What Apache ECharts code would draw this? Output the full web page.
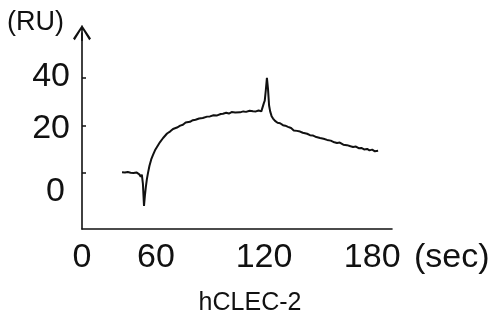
<!DOCTYPE html>
<html>
<head>
<meta charset="utf-8">
<script src="https://cdn.jsdelivr.net/npm/echarts@6/dist/echarts.min.js"></script>
<style>
  html, body { margin: 0; padding: 0; background: #fff; }
  #chart { width: 500px; height: 320px; }
</style>
</head>
<body>
<div id="chart"></div>
<script>
// sensorgram trace (time in sec, response in RU)
const timeSec = [
  41.2, 42.0, 42.8, 43.6, 44.4, 45.2, 46.0, 46.8, 47.6, 48.4, 49.2, 50.0, 50.8, 51.6, 52.2, 52.8,
  53.4, 53.9, 54.4, 55.0, 55.6, 56.4, 57.4, 58.4, 59.5, 60.6, 62.3, 64.0, 66.2, 68.0, 69.5, 71.7,
  73.5, 75.0, 76.5, 78.9, 80.5, 82.0, 84.0, 86.0, 88.4, 90.0, 92.0, 94.0, 96.0, 97.2, 99.0, 100.5,
  102.0, 104.0, 106.7, 108.5, 110.0, 112.0, 113.9, 115.5, 117.0, 118.5, 119.4, 119.9, 120.4, 121.0,
  121.6, 122.2, 122.8, 123.4, 124.2, 125.0, 126.1, 127.5, 128.9, 130.5, 131.8, 133.3, 135.0, 136.5,
  138.3, 140.0, 141.5, 143.9, 145.5, 147.0, 149.0, 151.1, 153.0, 155.0, 157.0, 159.0, 160.5, 162.0,
  164.0, 166.0, 168.0, 169.4, 171.0, 172.5, 174.0, 175.5, 177.2, 178.5, 180.0, 181.5, 183.3
]
const responseRU = [
  0.4, 0.8, 0.3, 0.9, 0.5, 1.0, 0.2, 0.7, 0.1, 0.8, 0.3, 0.6, -0.5, -1.5, -0.6, -4.5,
  -13.8, -9.5, -6.0, -2.5, 0.0, 3.0, 5.8, 7.7, 9.6, 11.0, 13.1, 14.8, 16.7, 17.6, 18.6, 19.2,
  20.0, 20.4, 21.3, 21.6, 22.3, 22.5, 23.0, 23.2, 23.8, 23.9, 24.4, 24.3, 24.9, 25.0, 25.4, 25.1,
  25.7, 25.5, 25.6, 26.0, 25.8, 26.3, 26.1, 26.0, 26.4, 26.0, 26.1, 29.5, 30.5, 35.0,
  40.1, 35.5, 28.5, 26.0, 24.0, 23.0, 22.0, 21.2, 21.0, 20.2, 20.0, 19.5, 19.0, 18.0,
  17.8, 17.5, 17.0, 16.6, 16.0, 15.9, 15.2, 14.8, 14.5, 14.0, 13.7, 13.0, 12.7, 12.9,
  12.0, 11.8, 11.3, 11.0, 11.2, 10.5, 10.6, 10.0, 10.2, 9.6, 9.9, 9.2, 9.4
]

const xMin = 19
const xMax = 191
const xTicks = [xMin, 60, 120, 180]   // origin is labelled "0"
const yTicks = [0, 20, 40]
const yMin = -23.5
const yMax = 59

const FONT = '"Liberation Sans", Arial, sans-serif'
const INK = '#111'

// open arrow head with a stem, pointing up
const arrowPath = 'path://M9,0 L18,13.6 L16.2,15.2 L9,3.6 L1.8,15.2 L0,13.6 Z M8.2,0.5 L9.8,0.5 L9.8,16 L8.2,16 Z'

// the y labels in the original sit a little off their ticks
const yLabelText = { fontFamily: FONT, fontSize: 34, color: INK }
const yLabelRich = {
  y0: { ...yLabelText, padding: [36, 5, 0, 0] },
  y20: { ...yLabelText, padding: [6, 0, 0, 0] },
  y40: { ...yLabelText, padding: [0, 0, 4, 0] }
}

const chart = echarts.init(document.getElementById('chart'))

const option = {
  animation: false,
  backgroundColor: '#fff',
  title: {
    text: 'hCLEC-2',
    left: 'center',
    top: 286,
    textStyle: { fontFamily: FONT, fontSize: 25, fontWeight: 'normal', color: INK }
  },
  grid: {
    left: 82,
    right: 108,
    top: 33,
    bottom: 91,
    outerBoundsMode: 'none'
  },
  xAxis: {
    type: 'value',
    min: xMin,
    max: xMax,
    name: '(sec)',
    nameLocation: 'end',
    nameGap: 22,
    nameTextStyle: {
      fontFamily: FONT,
      fontSize: 34,
      color: INK,
      verticalAlign: 'top',
      align: 'left',
      padding: [12, 0, 0, 0]
    },
    axisLine: { show: true, onZero: false, lineStyle: { color: INK, width: 1.6 } },
    axisTick: { show: false },
    splitLine: { show: false },
    axisLabel: {
      customValues: xTicks,
      margin: 12,
      fontFamily: FONT,
      fontSize: 34,
      color: INK,
      formatter: (v) => (v === xMin ? '0' : String(v))
    }
  },
  yAxis: {
    type: 'value',
    min: yMin,
    max: yMax,
    name: '(RU)',
    nameLocation: 'end',
    nameGap: 10,
    nameTextStyle: {
      fontFamily: FONT,
      fontSize: 27,
      color: INK,
      align: 'right',
      verticalAlign: 'middle',
      padding: [0, 18, 0, 0]
    },
    axisLine: {
      show: true,
      onZero: false,
      symbol: ['none', arrowPath],
      symbolSize: [18, 16],
      lineStyle: { color: INK, width: 1.6 }
    },
    axisTick: {
      show: true,
      inside: true,
      length: 4,
      customValues: yTicks,
      lineStyle: { color: INK, width: 1.5 }
    },
    splitLine: { show: false },
    axisLabel: {
      customValues: yTicks,
      margin: 12,
      fontFamily: FONT,
      fontSize: 34,
      color: INK,
      formatter: (v) => `{y${v}|${v}}`,
      rich: yLabelRich
    }
  },
  series: [{
    type: 'line',
    data: timeSec.map((t, i) => [t, responseRU[i]]),
    showSymbol: false,
    smooth: false,
    lineStyle: { color: INK, width: 2 }
  }]
}

chart.setOption(option)
</script>
</body>
</html>
